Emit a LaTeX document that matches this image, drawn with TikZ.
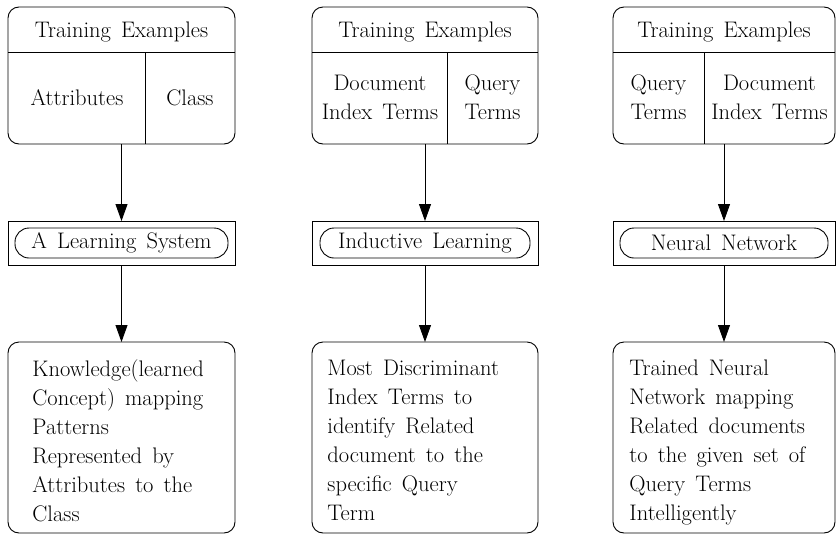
\documentclass[tikz,border=0pt]{standalone}
\usetikzlibrary{arrows.meta}
\newcommand\dtxt{\fontsize{22.5}{29}\selectfont\spaceskip=0.45em plus 0.1em minus 0.05em\relax}
\tikzset{
  rbox/.style={draw, line width=0.9pt, rounded corners=11pt, inner sep=0pt, outer sep=0pt, anchor=north west},
  fbox/.style={draw, line width=0.9pt, inner sep=0pt, outer sep=0pt, anchor=north west},
  pill/.style={draw, line width=0.9pt, rounded corners=14pt, inner sep=0pt, outer sep=0pt,
               minimum height=30pt, font=\dtxt},
  lbl/.style={font=\dtxt, align=center, inner sep=0pt},
  para/.style={font=\dtxt, align=left, inner sep=0pt, anchor=north west},
  sep/.style={line width=0.9pt},
  arr/.style={-{Triangle[length=17pt,width=12pt]}, line width=0.9pt},
}
\begin{document}
\begin{tikzpicture}[x=1pt, y=-1pt, line width=0.9pt]
\useasboundingbox (0,0) rectangle (836,536);

% ---------- Panel 1 ----------
\node[rbox, minimum width=227pt, minimum height=137pt] (t1) at (8,7) {};
\draw[sep] (8,52) -- (235,52);
\draw[sep] (145,52) -- (145,144);
\node[lbl, anchor=base] (h1) at (121.5,37) {Training Examples};
\node[lbl, anchor=base] (a1) at (77,105) {Attributes};
\node[lbl, anchor=base] (c1) at (190,105) {Class};

\node[fbox, minimum width=227pt, minimum height=44pt] (m1) at (8,221) {};
\node[pill, minimum width=213pt] (p1) at (m1.center) {A Learning System};

\node[rbox, minimum width=227pt, minimum height=191pt] (b1) at (8,342) {};
\node[para] (bt1) at (32,359.5) {Knowledge(learned\\Concept) mapping\\Patterns\\Represented by\\Attributes to the\\Class};

\draw[arr] (t1) -- (m1);
\draw[arr] (m1) -- (b1);

% ---------- Panel 2 ----------
\node[rbox, minimum width=226pt, minimum height=137pt] (t2) at (312,7) {};
\draw[sep] (312,52) -- (538,52);
\draw[sep] (447,52) -- (447,144);
\node[lbl, anchor=base] (h2) at (425,37) {Training Examples};
\node[lbl, anchor=north] (d2) at (380,74.5) {Document\\Index Terms};
\node[lbl, anchor=north] (q2) at (492.5,74.5) {Query\\Terms};

\node[fbox, minimum width=226pt, minimum height=44pt] (m2) at (312,221) {};
\node[pill, minimum width=210pt] (p2) at (m2.center) {Inductive Learning};

\node[rbox, minimum width=226pt, minimum height=191pt] (b2) at (312,342) {};
\node[para] (bt2) at (327,359.5) {Most Discriminant\\Index Terms to\\identify Related\\document to the\\specific Query\\Term};

\draw[arr] (t2) -- (m2);
\draw[arr] (m2) -- (b2);

% ---------- Panel 3 ----------
\node[rbox, minimum width=222pt, minimum height=137pt] (t3) at (613,7) {};
\draw[sep] (613,52) -- (835,52);
\draw[sep] (704,52) -- (704,144);
\node[lbl, anchor=base] (h3) at (724,37) {Training Examples};
\node[lbl, anchor=north] (q3) at (658.5,74.5) {Query\\Terms};
\node[lbl, anchor=north] (d3) at (769.5,74.5) {Document\\Index Terms};

\node[fbox, minimum width=222pt, minimum height=44pt] (m3) at (613,221) {};
\node[pill, minimum width=208pt] (p3) at (m3.center) {Neural Network};

\node[rbox, minimum width=222pt, minimum height=191pt] (b3) at (613,342) {};
\node[para] (bt3) at (629,359.5) {Trained Neural\\Network mapping\\Related documents\\to the given set of\\Query Terms\\Intelligently};

\draw[arr] (t3) -- (m3);
\draw[arr] (m3) -- (b3);
\end{tikzpicture}
\end{document}
